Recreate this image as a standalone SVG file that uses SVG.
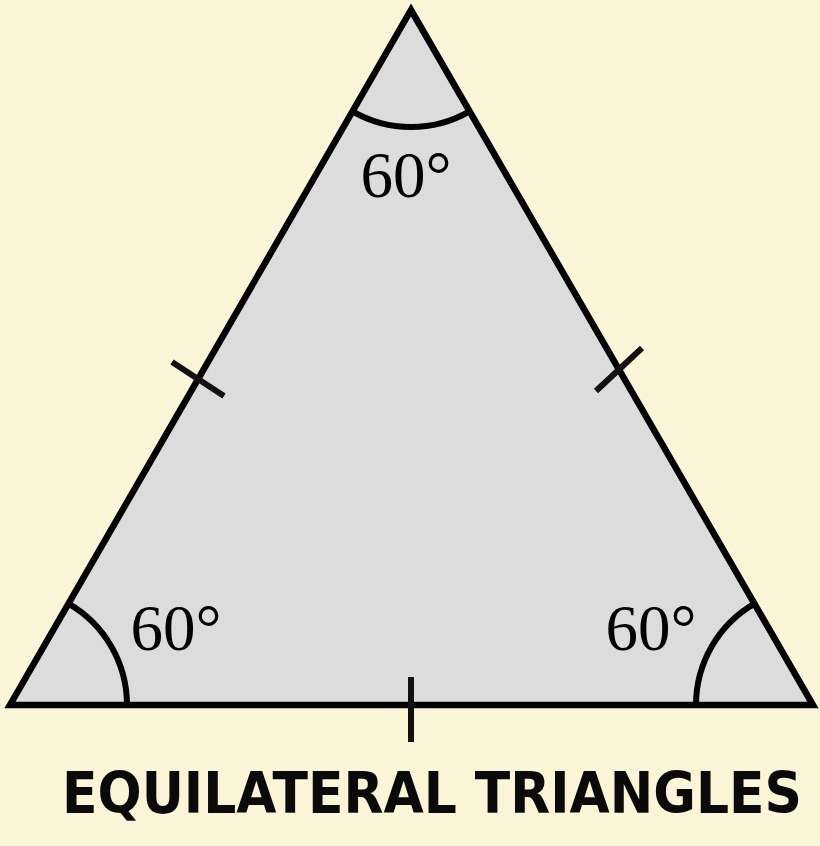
<svg xmlns="http://www.w3.org/2000/svg" width="820" height="846" viewBox="0 0 820 846">
<style>
.ln{fill:none;stroke:#000;stroke-width:6;stroke-linecap:butt}
.tk{fill:none;stroke:#111;stroke-width:6}
.ang{font-family:"Liberation Serif","Times New Roman",serif;font-size:65px;fill:#000}
.ttl{font-family:"DejaVu Sans","Liberation Sans",sans-serif;font-weight:900;font-size:48px;fill:#0a0a0a}
</style>
<rect width="820" height="846" fill="#FBF5D8"/>
<g id="triangle">
<polygon points="411,10 813,705 10,705" fill="#DCDCDC" stroke="#000" stroke-width="6.5" stroke-linejoin="miter"/>
</g>
<g id="angles">
<path class="ln" d="M352.5,111.3 A117,117 0 0 0 469.5,111.3"/>
<path class="ln" d="M127,705 A117,117 0 0 0 68.5,603.7"/>
<path class="ln" d="M696,705 A117,117 0 0 1 754.5,603.7"/>
<text class="ang" x="406" y="197" text-anchor="middle">60°</text>
<text class="ang" x="176" y="650" text-anchor="middle">60°</text>
<text class="ang" x="651" y="650" text-anchor="middle">60°</text>
</g>
<g id="ticks">
<line class="tk" x1="172" y1="362" x2="224" y2="396"/>
<line class="tk" x1="596" y1="391" x2="642" y2="348"/>
<line class="tk" x1="411" y1="677" x2="411" y2="742"/>
</g>
<g id="title">
<text class="ttl" x="62" y="813" textLength="740" lengthAdjust="spacingAndGlyphs" transform="translate(0,813) scale(1,1.17) translate(0,-813)">EQUILATERAL TRIANGLES</text>
</g>
</svg>
